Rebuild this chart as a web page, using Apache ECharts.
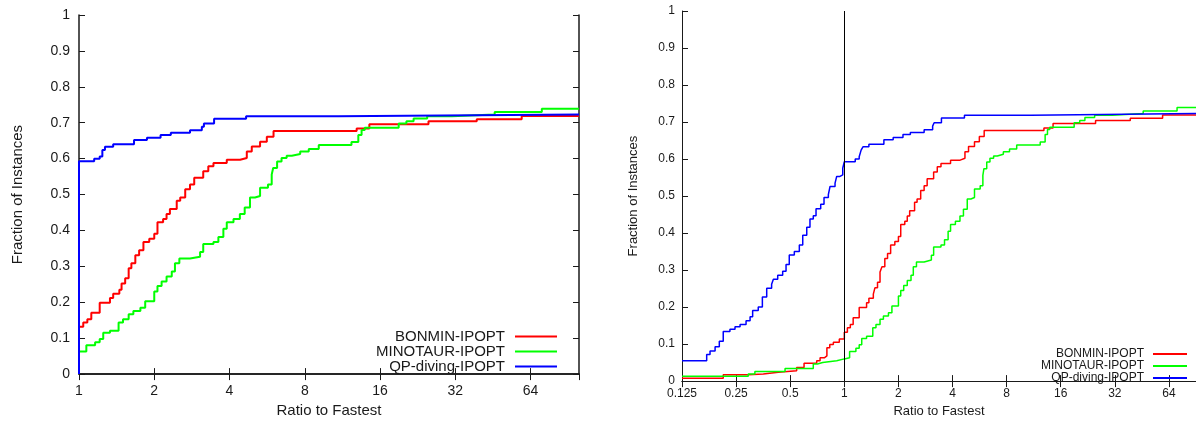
<!DOCTYPE html>
<html>
<head>
<meta charset="utf-8">
<script src="https://cdn.jsdelivr.net/npm/echarts@6/dist/echarts.min.js"></script>
<style>
html, body { margin: 0; padding: 0; background: #fff; }
#chart { width: 1196px; height: 423px; }
</style>
</head>
<body>
<div id="chart"></div>
<script>
// 名称与颜色
var seriesNames = ['BONMIN-IPOPT', 'MINOTAUR-IPOPT', 'QP-diving-IPOPT'];
var seriesColors = ['#ff0000', '#00ff00', '#0000ff'];

// 刻度标签
var xLabelsLeft = ['1', '2', '4', '8', '16', '32', '64'];
var xLabelsRight = ['0.125', '0.25', '0.5', '1', '2', '4', '8', '16', '32', '64'];

// [ratio, fraction] — part below ratio 1 (only in right chart)
var bonminLow = [[0.125, 0.008], [0.212, 0.017], [0.292, 0.019], [0.354, 0.024], [0.429, 0.028],
    [0.543, 0.037], [0.597, 0.048], [0.702, 0.055], [0.733, 0.063], [0.774, 0.068], [0.80, 0.09],
    [0.83, 0.099], [0.869, 0.105], [0.938, 0.114]];
var minotaurLow = [[0.125, 0.013], [0.292, 0.019], [0.318, 0.026], [0.468, 0.034], [0.672, 0.046],
    [0.708, 0.05], [0.758, 0.055], [0.907, 0.06]];
var qpLow = [[0.125, 0.055], [0.1715, 0.072], [0.179, 0.081], [0.191, 0.093], [0.2016, 0.108],
    [0.212, 0.134], [0.231, 0.14], [0.2465, 0.147], [0.263, 0.153], [0.284, 0.163], [0.299, 0.174],
    [0.309, 0.191], [0.332, 0.2], [0.35, 0.227], [0.37, 0.251], [0.394, 0.262], [0.403, 0.275],
    [0.426, 0.286], [0.454, 0.297], [0.474, 0.315], [0.494, 0.341], [0.527, 0.35], [0.562, 0.368],
    [0.587, 0.394], [0.618, 0.416], [0.644, 0.438], [0.672, 0.447], [0.696, 0.466], [0.739, 0.478],
    [0.771, 0.496], [0.815, 0.504], [0.833, 0.526], [0.888, 0.535], [0.907, 0.553], [0.946, 0.557],
    [0.98, 0.575]];

// [ratio, fraction] — from ratio 1 on (both charts)
var bonminHigh = [[1, 0.132], [1.04, 0.144], [1.08, 0.153], [1.12, 0.171], [1.21, 0.199], [1.33, 0.212],
    [1.37, 0.224], [1.45, 0.235], [1.48, 0.252], [1.53, 0.267], [1.58, 0.295], [1.62, 0.309],
    [1.68, 0.331], [1.74, 0.345], [1.81, 0.368], [1.91, 0.377], [2.0, 0.391], [2.06, 0.423],
    [2.17, 0.432], [2.24, 0.446], [2.31, 0.46], [2.46, 0.483], [2.54, 0.492], [2.66, 0.515],
    [2.78, 0.528], [2.89, 0.547], [3.14, 0.565], [3.29, 0.579], [3.45, 0.588], [3.9, 0.597],
    [4.41, 0.602], [4.69, 0.62], [4.91, 0.634], [5.3, 0.647], [5.64, 0.661], [6.0, 0.677],
    [12.9, 0.684], [14.5, 0.696], [25, 0.704], [39, 0.71], [59, 0.719], [100, 0.719]];
var minotaurHigh = [[1, 0.063], [1.07, 0.08], [1.16, 0.089], [1.21, 0.098], [1.25, 0.115], [1.33, 0.121],
    [1.44, 0.144], [1.5, 0.153], [1.58, 0.167], [1.65, 0.176], [1.76, 0.185], [1.84, 0.203],
    [2.0, 0.23], [2.06, 0.245], [2.14, 0.258], [2.24, 0.272], [2.35, 0.286], [2.42, 0.309],
    [2.52, 0.322], [2.78, 0.327], [3.05, 0.34], [3.14, 0.362], [3.45, 0.368], [3.61, 0.382],
    [3.78, 0.405], [3.9, 0.423], [4.15, 0.432], [4.4, 0.446], [4.6, 0.464], [4.83, 0.492],
    [5.06, 0.496], [5.3, 0.519], [5.7, 0.528], [5.9, 0.556], [5.98, 0.574], [6.2, 0.592],
    [6.46, 0.602], [6.77, 0.608], [7.1, 0.613], [7.67, 0.62], [8.3, 0.627], [9.1, 0.638],
    [12.3, 0.646], [13.1, 0.666], [13.5, 0.68], [13.9, 0.686], [19.0, 0.698], [20.4, 0.704],
    [21.8, 0.712], [24.7, 0.718], [31, 0.723], [46, 0.73], [71, 0.739], [100, 0.739]];
var qpHigh = [[1, 0.593], [1.15, 0.6], [1.21, 0.606], [1.24, 0.624], [1.27, 0.633], [1.37, 0.64],
    [1.66, 0.652], [1.87, 0.658], [2.12, 0.666], [2.33, 0.672], [2.78, 0.679], [3.1, 0.689],
    [3.16, 0.698], [3.47, 0.711], [4.66, 0.718], [10.9, 0.723], [100, 0.723]];

var lowParts = [bonminLow, minotaurLow, qpLow];
var highParts = [bonminHigh, minotaurHigh, qpHigh];

var FONT = '"Liberation Sans", Arial, Helvetica, sans-serif';
var INK = '#1a1a1a';

// 一个子图的坐标轴
function makeX(grid, min, max, fs, lw, labels, nameGap, labelMargin) {
    var base = {
        type: 'log', logBase: 2, min: min, max: max, gridIndex: grid, splitNumber: 10,
        axisLine: { lineStyle: { color: INK, width: lw } },
        axisTick: { inside: true, length: 6, lineStyle: { color: INK, width: 1 } },
        minorTick: { show: false },
        splitLine: { show: false }
    };
    var bottom = Object.assign({}, base, {
        position: 'bottom',
        name: 'Ratio to Fastest', nameLocation: 'middle', nameGap: nameGap,
        nameTextStyle: { fontSize: fs + 1, color: INK, fontFamily: FONT },
        axisLabel: {
            fontSize: fs, color: INK, fontFamily: FONT, margin: labelMargin, showMaxLabel: false,
            formatter: function (v) {
                var s = String(v);
                return labels.indexOf(s) >= 0 ? s : '';
            }
        }
    });
    var top = Object.assign({}, base, { position: 'top', axisLabel: { show: false } });
    return [bottom, top];
}

function makeY(grid, fs, lw, nameGap, labelMargin, showRight) {
    var base = {
        type: 'value', min: 0, max: 1, interval: 0.1, gridIndex: grid,
        axisLine: { show: true, lineStyle: { color: INK, width: lw } },
        axisTick: { show: true, inside: true, length: 6, lineStyle: { color: INK, width: 1 } },
        splitLine: { show: false }
    };
    var left = Object.assign({}, base, {
        position: 'left',
        name: 'Fraction of Instances', nameLocation: 'middle', nameGap: nameGap,
        nameTextStyle: { fontSize: fs + 1, color: INK, fontFamily: FONT },
        axisLabel: { fontSize: fs, color: INK, fontFamily: FONT, margin: labelMargin }
    });
    var right = Object.assign({}, base, { position: 'right', show: showRight, axisLabel: { show: false } });
    return [left, right];
}

// 右图在画布边缘被截断，max 取到边缘处
var xAxes = makeX(0, 1, 100, 14, 1.5, xLabelsLeft, 25, 10)
    .concat(makeX(1, 0.125, 90.5, 12, 1, xLabelsRight, 22, 7));
var yAxes = makeY(0, 14, 1.5, 54, 9, true).concat(makeY(1, 12, 1, 42, 7, false));

var series = [];
var legends = [];
for (var i = 0; i < 3; i++) {
    // 左图：从 (1, 0) 起步
    series.push({
        name: seriesNames[i], type: 'line', step: 'end', showSymbol: false,
        xAxisIndex: 0, yAxisIndex: 0,
        color: seriesColors[i],
        lineStyle: { width: 2, color: seriesColors[i] },
        data: [[1, 0]].concat(highParts[i])
    });
    var s = {
        name: seriesNames[i], type: 'line', step: 'end', showSymbol: false,
        xAxisIndex: 2, yAxisIndex: 2,
        color: seriesColors[i],
        lineStyle: { width: 1.5, color: seriesColors[i] },
        data: lowParts[i].concat(highParts[i])
    };
    if (i === 0) {
        s.markLine = {
            silent: true, symbol: 'none', label: { show: false },
            lineStyle: { color: '#000', width: 1, type: 'solid' },
            data: [{ xAxis: 1 }]
        };
    }
    series.push(s);

    legends.push({
        data: [seriesNames[i]], right: 634, top: 324 + i * 15,
        orient: 'vertical', align: 'right', icon: 'rect', itemWidth: 42, itemHeight: 2,
        selectedMode: false,
        textStyle: { fontSize: 15, color: INK, fontFamily: FONT, padding: [0, 5, 0, 0] }
    });
    legends.push({
        data: [seriesNames[i]], right: 4, top: 343 + i * 12,
        orient: 'vertical', align: 'right', icon: 'rect', itemWidth: 34, itemHeight: 2,
        selectedMode: false,
        textStyle: { fontSize: 12, color: INK, fontFamily: FONT, padding: [0, 4, 0, 0] }
    });
}

var myChart = echarts.init(document.getElementById('chart'));
myChart.setOption({
    animation: false,
    textStyle: { fontFamily: FONT },
    grid: [
        { left: 79, top: 15, width: 500, height: 364 },
        { left: 682, top: 11, width: 514, height: 378 }
    ],
    xAxis: xAxes,
    yAxis: yAxes,
    legend: legends,
    series: series
});
</script>
</body>
</html>
